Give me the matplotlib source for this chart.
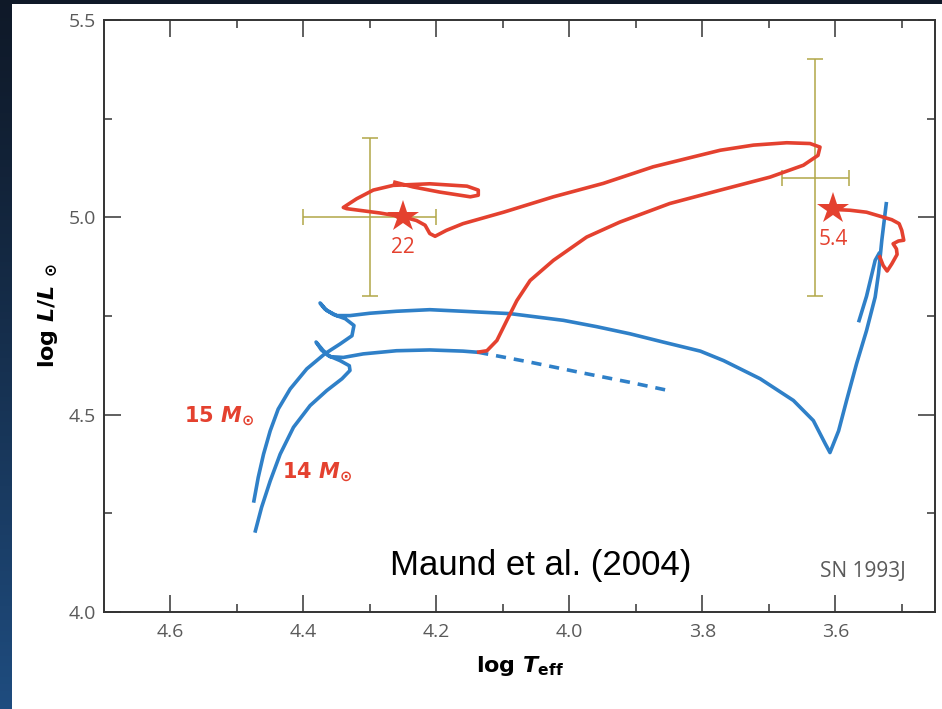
import numpy as np
import matplotlib
matplotlib.use("Agg")
import matplotlib.pyplot as plt
from matplotlib.patches import Rectangle

# ---------------- data ----------------
# 15 Msun single-star track (blue)
m15_logT = [4.475, 4.468, 4.460, 4.450, 4.438, 4.420, 4.395, 4.368, 4.345, 4.327,
            4.324, 4.337, 4.355, 4.368, 4.375, 4.365, 4.350, 4.330, 4.300, 4.260,
            4.210, 4.160, 4.089, 4.009, 3.959, 3.909, 3.859, 3.803, 3.768, 3.713,
            3.663, 3.633, 3.615, 3.608, 3.595, 3.583, 3.568, 3.553, 3.540, 3.535,
            3.530, 3.523]
m15_logL = [4.277, 4.341, 4.400, 4.459, 4.514, 4.565, 4.616, 4.654, 4.679, 4.700,
            4.726, 4.743, 4.754, 4.768, 4.783, 4.764, 4.751, 4.751, 4.757, 4.762,
            4.766, 4.762, 4.756, 4.739, 4.723, 4.705, 4.684, 4.661, 4.637, 4.591,
            4.536, 4.485, 4.426, 4.404, 4.459, 4.536, 4.629, 4.713, 4.798, 4.857,
            4.942, 5.039]
# extra blue strand near the red-supergiant branch
m15b_logT = [3.565, 3.553, 3.540, 3.533]
m15b_logL = [4.734, 4.800, 4.891, 4.912]

# 14 Msun single-star track (blue, solid part)
m14_logT = [4.473, 4.463, 4.450, 4.435, 4.415, 4.390, 4.365, 4.342, 4.330, 4.331,
            4.345, 4.363, 4.373, 4.381, 4.370, 4.360, 4.340, 4.310, 4.260, 4.210,
            4.160, 4.137]
m14_logL = [4.201, 4.265, 4.332, 4.400, 4.468, 4.523, 4.561, 4.591, 4.612, 4.624,
            4.637, 4.650, 4.664, 4.684, 4.662, 4.647, 4.645, 4.654, 4.662, 4.664,
            4.661, 4.658]
# 14 Msun without accretion (dashed)
m14d_logT = [4.137, 4.059, 3.984, 3.909, 3.856]
m14d_logL = [4.658, 4.633, 4.607, 4.582, 4.563]

# secondary after accretion (red) -> 22 Msun
sec_logT = [4.139, 4.124, 4.109, 4.094, 4.079, 4.059, 4.024, 3.974, 3.924, 3.849,
            3.773, 3.698, 3.648, 3.626, 3.623, 3.638, 3.673, 3.723, 3.773, 3.814,
            3.874, 3.949, 4.024, 4.099, 4.160, 4.185, 4.202, 4.210, 4.217, 4.230,
            4.250, 4.285, 4.335, 4.340, 4.320, 4.295, 4.265, 4.210, 4.154, 4.137,
            4.137, 4.149, 4.195, 4.235, 4.265]
sec_logL = [4.658, 4.662, 4.688, 4.739, 4.789, 4.840, 4.891, 4.950, 4.988, 5.035,
            5.069, 5.102, 5.132, 5.157, 5.178, 5.187, 5.189, 5.183, 5.170, 5.153,
            5.128, 5.086, 5.052, 5.013, 4.984, 4.967, 4.952, 4.959, 4.980, 4.992,
            5.001, 5.011, 5.022, 5.025, 5.047, 5.069, 5.081, 5.085, 5.079, 5.069,
            5.056, 5.052, 5.064, 5.077, 5.090]

# primary after mass loss (red) -> 5.4 Msun
pri_logT = [3.534, 3.528, 3.522, 3.515, 3.507, 3.508, 3.513, 3.505, 3.497, 3.500,
            3.504, 3.515, 3.533, 3.553, 3.578, 3.603]
pri_logL = [4.904, 4.878, 4.864, 4.882, 4.906, 4.920, 4.933, 4.940, 4.942, 4.967,
            4.984, 4.994, 5.003, 5.013, 5.018, 5.020]

# model end points (stars) and their masses
end_logT = [4.250, 3.603]
end_logL = [5.000, 5.020]
end_mass = ["22", "5.4"]

# observations with error bars
obs_logT = [4.30, 3.63]
obs_logL = [5.00, 5.10]
obs_Terr = [0.10, 0.05]
obs_Lerr_lo = [0.20, 0.30]
obs_Lerr_hi = [0.20, 0.30]

xticks_major = [4.6, 4.4, 4.2, 4.0, 3.8, 3.6]
xticks_minor = [4.5, 4.3, 4.1, 3.9, 3.7, 3.5]
yticks_major = [4.0, 4.5, 5.0, 5.5]
yticks_minor = [4.25, 4.75, 5.25]

# ---------------- style ----------------
RED = "#e4412f"
BLUE = "#2f80c8"
OLIVE = "#b1a748"
GREY = "#5a5a5a"

plt.rcParams["mathtext.fontset"] = "custom"
plt.rcParams["mathtext.it"] = "DejaVu Sans:italic:bold"
plt.rcParams["mathtext.rm"] = "DejaVu Sans:bold"
plt.rcParams["mathtext.bf"] = "DejaVu Sans:bold"

fig = plt.figure(figsize=(9.42, 7.09), dpi=100)

# background: dark blue gradient + white panel
bg = fig.add_axes([0, 0, 1, 1], zorder=-10)
bg.set_axis_off()
h, w = 200, 200
yy, xx = np.mgrid[0:1:h * 1j, 0:1:w * 1j]
top = np.array([0.06, 0.10, 0.16])
bot = np.array([0.12, 0.30, 0.50])
t = (yy ** 1.2)[..., None]
img = top * (1 - t) + bot * t
bg.imshow(img, extent=[0, 1, 0, 1], aspect="auto", origin="upper")
bg.set_xlim(0, 1)
bg.set_ylim(0, 1)
fig.patches.append(Rectangle((12 / 942, 0), 1 - 12 / 942, (709 - 4) / 709,
                             transform=fig.transFigure, facecolor="white",
                             edgecolor="none", zorder=-5))

ax = fig.add_axes([104 / 942, 97 / 709, (935 - 104) / 942, (612 - 20) / 709])
ax.set_facecolor("white")
ax.set_xlim(4.7, 3.45)
ax.set_ylim(4.0, 5.5)

lw = 2.6
kw = dict(lw=lw, solid_joinstyle="round", solid_capstyle="butt")
ax.plot(m15_logT, m15_logL, color=BLUE, zorder=2, **kw)
ax.plot(m15b_logT, m15b_logL, color=BLUE, zorder=2, **kw)
ax.plot(m14_logT, m14_logL, color=BLUE, zorder=2, **kw)
ax.plot(m14d_logT, m14d_logL, color=BLUE, lw=lw, ls=(0, (2.8, 2.2)), zorder=2)
ax.plot(sec_logT, sec_logL, color=RED, zorder=3, **kw)
ax.plot(pri_logT, pri_logL, color=RED, zorder=3, **kw)

ax.errorbar(obs_logT, obs_logL, xerr=obs_Terr, yerr=[obs_Lerr_lo, obs_Lerr_hi],
            fmt="none", ecolor=OLIVE, elinewidth=1.1, capsize=6, capthick=1.1, zorder=1)

ax.plot(end_logT, end_logL, ls="none", marker="*", ms=24, color=RED,
        markeredgewidth=0, zorder=4)
for xt, yt, s in zip(end_logT, end_logL, end_mass):
    ax.annotate(s, (xt, yt), xytext=(0, -22), textcoords="offset points",
                ha="center", va="center", color=RED, fontsize=15,
                family=["Open Sans", "DejaVu Sans"])

ax.text(4.474, 4.495, r"15 $M_{\odot}$", color=RED, fontsize=15, fontweight="bold",
        ha="right", va="center")
ax.text(4.433, 4.355, r"14 $M_{\odot}$", color=RED, fontsize=15, fontweight="bold",
        ha="left", va="center")

ax.text(0.525, 0.078, "Maund et al. (2004)", transform=ax.transAxes, fontsize=25,
        family=["Liberation Sans", "DejaVu Sans"], color="black",
        ha="center", va="center")
ax.text(0.965, 0.068, "SN 1993J", transform=ax.transAxes, fontsize=15,
        family=["Liberation Sans Narrow", "Open Sans", "DejaVu Sans"], color=GREY,
        ha="right", va="center")

# ticks
ax.set_xticks(xticks_major)
ax.set_xticks(xticks_minor, minor=True)
ax.set_yticks(yticks_major)
ax.set_yticks(yticks_minor, minor=True)
ax.set_xticklabels([f"{v:.1f}" for v in xticks_major])
ax.set_yticklabels([f"{v:.1f}" for v in yticks_major])
ax.tick_params(which="both", direction="in", top=True, right=True, color="#444444",
               width=1.2, labelcolor=GREY, labelsize=14)
ax.tick_params(which="major", length=12)
ax.tick_params(which="minor", length=6)
ax.tick_params(axis="x", pad=8)
ax.tick_params(axis="y", pad=6)
for lab in ax.get_xticklabels() + ax.get_yticklabels():
    lab.set_family(["Liberation Sans Narrow", "Open Sans", "DejaVu Sans"])
for sp in ax.spines.values():
    sp.set_color("#333333")
    sp.set_linewidth(1.4)

ax.set_xlabel(r"log $T_{\rm eff}$", fontsize=16, fontweight="bold", labelpad=9)
ax.set_ylabel(r"log $L/L$ $_{\odot}$", fontsize=16, fontweight="bold", labelpad=6)

fig.savefig("out.png", dpi=100, facecolor=fig.get_facecolor())
